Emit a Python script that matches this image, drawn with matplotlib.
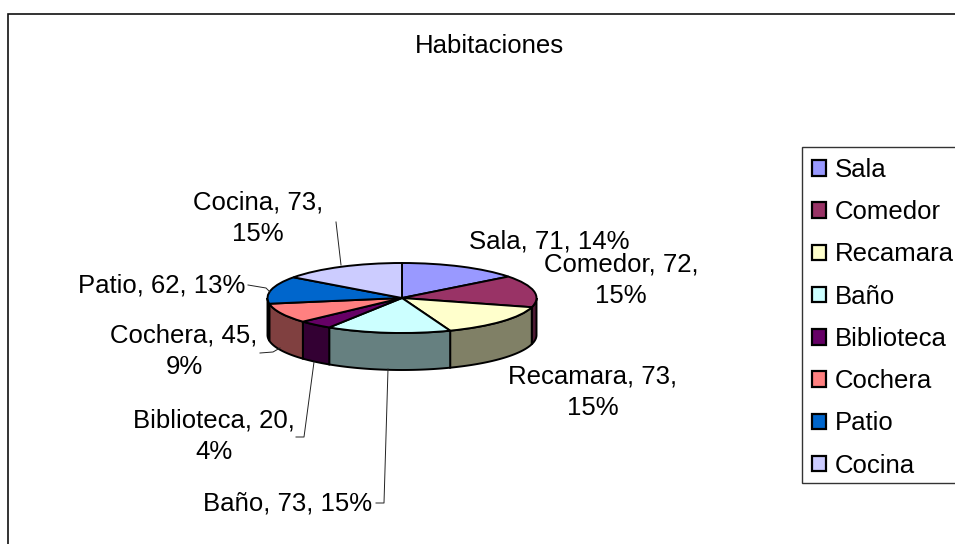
import numpy as np
import matplotlib
matplotlib.use("Agg")
import matplotlib.pyplot as plt
from matplotlib.patches import Polygon, Rectangle

categories = ["Sala", "Comedor", "Recamara", "Baño", "Biblioteca", "Cochera", "Patio", "Cocina"]
values = [71, 72, 73, 73, 20, 45, 62, 73]
percents = [14, 15, 15, 15, 4, 9, 13, 15]
top_colors = ["#9999FF", "#993366", "#FFFFCC", "#CCFFFF", "#660066", "#FF8080", "#0066CC", "#CCCCFF"]
wall_colors = ["#4D4D80", "#4D1A33", "#808066", "#668080", "#330033", "#804040", "#003366", "#666680"]
title = "Habitaciones"

W, H = 955, 544
plt.rcParams["font.family"] = ["Liberation Sans", "DejaVu Sans"]
FS = 18.5
fig = plt.figure(figsize=(W / 100, H / 100), dpi=100)

# pixel overlay for frame, labels and leader lines
ov = fig.add_axes([0, 0, 1, 1], zorder=3)
ov.set_xlim(0, W)
ov.set_ylim(H, 0)
ov.axis("off")
ov.patch.set_alpha(0)

ov.plot([8, 8, W], [H, 13.5, 13.5], color="#111111", lw=1.2, solid_joinstyle="miter")
ov.add_patch(Rectangle((802, 147), 170, 336, fc="white", ec="#333333", lw=1.0, clip_on=True))
ov.text(489, 46, title, fontsize=FS, ha="center", va="center", color="black")

# pie: elliptical top, extruded wall
cx, cy, rx, ry, depth = 402, 298, 134.5, 35, 37
ax = fig.add_axes([(cx - 1.25 * rx) / W, 1 - (cy + 1.25 * ry) / H, 2.5 * rx / W, 2.5 * ry / H], zorder=2)
wedges, _ = ax.pie(values, colors=top_colors, startangle=90, counterclock=False,
                   wedgeprops=dict(edgecolor="black", linewidth=1.4))
ax.set_aspect("auto")
ax.set_xlim(-1.25, 1.25)
ax.set_ylim(-1.25, 1.25)
d = depth / ry
for w, c in zip(wedges, wall_colors):
    t1, t2 = w.theta1, w.theta2
    # bring the wedge to the range [0, 360) and keep the part on the front half
    while t1 < 0:
        t1 += 360
        t2 += 360
    lo, hi = max(t1, 180), min(t2, 360)
    if hi <= lo:
        continue
    t = np.radians(np.linspace(lo, hi, 80))
    xs = np.cos(t)
    ys = np.sin(t)
    ax.add_patch(Polygon(np.r_[np.c_[xs, ys], np.c_[xs, ys - d][::-1]], closed=True,
                         fc=c, ec="black", lw=1.4, zorder=0.5, clip_on=False))

# data labels
label_pos = [(549.5, 241, 1), (621, 280, 2), (593, 392.5, 2), (287.5, 503, 1),
             (214, 436.5, 2), (184, 351.5, 2), (161.5, 286, 1), (258, 218, 2)]
for cat, v, p, (x, y, n) in zip(categories, values, percents, label_pos):
    s = f"{cat}, {v},\n{p}%" if n == 2 else f"{cat}, {v}, {p}%"
    ov.text(x, y, s, fontsize=FS, ha="center", va="center", color="black", linespacing=1.4)

leaders = [[(336, 222), (341, 265)],
           [(248, 285), (266, 288), (270, 292)],
           [(260, 353), (273, 352), (280, 348)],
           [(296, 437), (304, 437), (314, 362)],
           [(376, 503), (384, 503), (388, 369)]]
for pts in leaders:
    xs, ys = zip(*pts)
    ov.plot(xs, ys, color="#222222", lw=0.7)

leg = ov.legend(wedges, categories, loc="upper left", bbox_to_anchor=(812 / W, 1 - 158 / H),
                bbox_transform=fig.transFigure, frameon=False, fontsize=FS,
                handlelength=0.56, handleheight=0.56, handletextpad=0.34,
                labelspacing=0.71, borderpad=0, borderaxespad=0)
for h in leg.get_patches():
    h.set_linewidth(1.6)

fig.savefig("out.png", dpi=100, facecolor="white")
